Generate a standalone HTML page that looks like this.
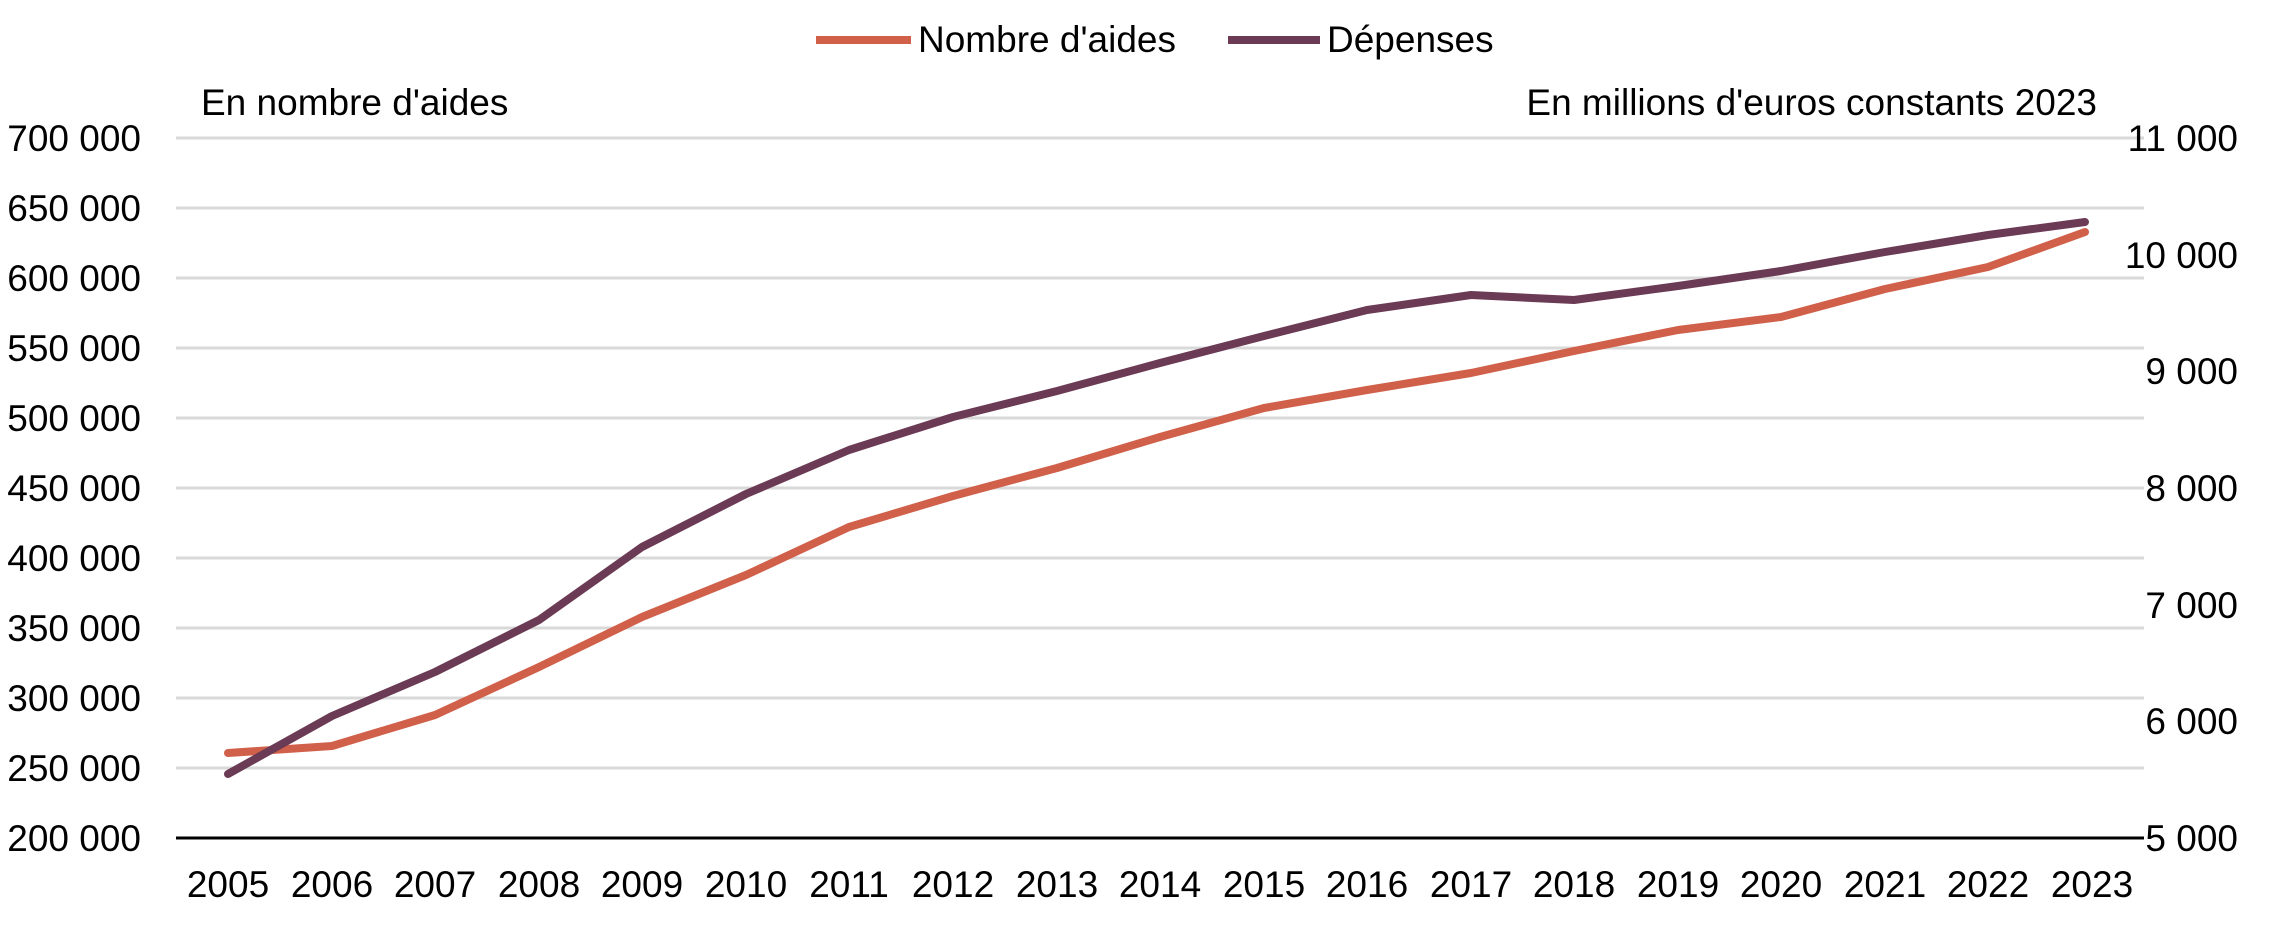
<!DOCTYPE html><html><head><style>body{margin:0;background:#fff}</style></head><body>
<svg width="2286" height="920" xmlns="http://www.w3.org/2000/svg" font-family="Liberation Sans, Arial, sans-serif" font-size="37">
<g stroke="#d9d9d9" stroke-width="3">
<line x1="176" x2="2144" y1="138" y2="138"/><line x1="176" x2="2144" y1="208" y2="208"/><line x1="176" x2="2144" y1="278" y2="278"/><line x1="176" x2="2144" y1="348" y2="348"/><line x1="176" x2="2144" y1="418" y2="418"/><line x1="176" x2="2144" y1="488" y2="488"/><line x1="176" x2="2144" y1="558" y2="558"/><line x1="176" x2="2144" y1="628" y2="628"/><line x1="176" x2="2144" y1="698" y2="698"/><line x1="176" x2="2144" y1="768" y2="768"/>
</g>
<line x1="176" x2="2144" y1="838" y2="838" stroke="#000" stroke-width="3"/>
<g text-anchor="end" fill="#000">
<text x="141" y="151">700 000</text><text x="141" y="221">650 000</text><text x="141" y="291">600 000</text><text x="141" y="361">550 000</text><text x="141" y="431">500 000</text><text x="141" y="501">450 000</text><text x="141" y="571">400 000</text><text x="141" y="641">350 000</text><text x="141" y="711">300 000</text><text x="141" y="781">250 000</text><text x="141" y="851">200 000</text>
<text x="2238" y="151">11 000</text><text x="2238" y="268">10 000</text><text x="2238" y="384">9 000</text><text x="2238" y="501">8 000</text><text x="2238" y="618">7 000</text><text x="2238" y="734">6 000</text><text x="2238" y="851">5 000</text>
<text x="2097" y="115">En millions d'euros constants 2023</text>
</g>
<text x="201" y="115">En nombre d'aides</text>
<g text-anchor="middle">
<text x="228" y="897">2005</text><text x="332" y="897">2006</text><text x="435" y="897">2007</text><text x="539" y="897">2008</text><text x="642" y="897">2009</text><text x="746" y="897">2010</text><text x="849" y="897">2011</text><text x="953" y="897">2012</text><text x="1057" y="897">2013</text><text x="1160" y="897">2014</text><text x="1264" y="897">2015</text><text x="1367" y="897">2016</text><text x="1471" y="897">2017</text><text x="1574" y="897">2018</text><text x="1678" y="897">2019</text><text x="1781" y="897">2020</text><text x="1885" y="897">2021</text><text x="1988" y="897">2022</text><text x="2092" y="897">2023</text>
</g>
<line x1="816" x2="911" y1="40" y2="40" stroke="#d0604a" stroke-width="8"/>
<text x="918" y="52">Nombre d'aides</text>
<line x1="1228" x2="1320" y1="40" y2="40" stroke="#6b3a55" stroke-width="8"/>
<text x="1327" y="52">Dépenses</text>
<polyline fill="none" stroke="#d0604a" stroke-width="8" stroke-linejoin="round" stroke-linecap="round" points="228,753 332,746 435,715 539,667 642,617 746,575 849,527 953,496 1057,468 1160,437 1264,408 1367,390 1471,373 1574,351 1678,330 1781,317 1885,289 1988,267 2085,232"/>
<polyline fill="none" stroke="#6b3a55" stroke-width="8" stroke-linejoin="round" stroke-linecap="round" points="228,774 332,716 435,672 539,620 642,547 746,494 849,450 953,417 1057,391 1160,363 1264,336 1367,310 1471,295 1574,300 1678,286 1781,271 1885,252 1988,235 2085,222"/>
</svg>
</body></html>
